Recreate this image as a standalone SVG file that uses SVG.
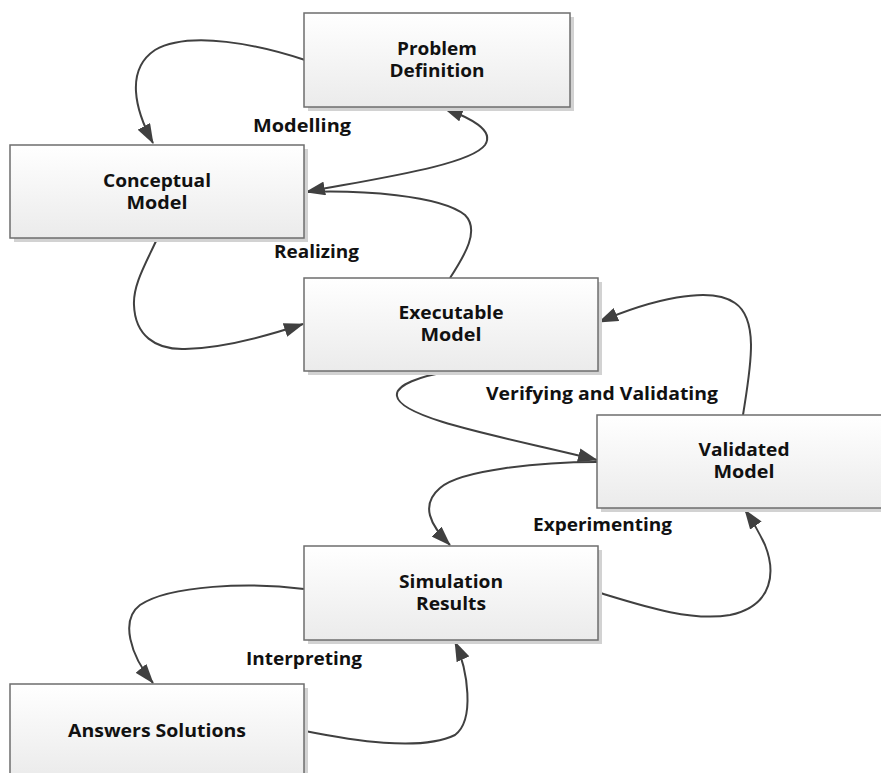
<svg xmlns="http://www.w3.org/2000/svg" width="881" height="773" viewBox="0 0 881 773">
<defs>
<linearGradient id="g" x1="0" y1="0" x2="0" y2="1">
<stop offset="0" stop-color="#ffffff"/>
<stop offset="1" stop-color="#ebebeb"/>
</linearGradient>
<marker id="a" viewBox="0 0 20 14" refX="19" refY="7" markerWidth="20" markerHeight="14" markerUnits="userSpaceOnUse" orient="auto-start-reverse">
<path d="M0,0 L20,7 L0,14 z" fill="#404040"/>
</marker>
</defs>
<style>
.box{fill:url(#g);stroke:#6e6e6e;stroke-width:1.5}
.sh{fill:#d2d2d2}
.t{font-family:"Open Sans","Liberation Sans",sans-serif;font-weight:bold;font-size:17.5px;fill:#111;text-anchor:middle}
.l{font-family:"Open Sans","Liberation Sans",sans-serif;font-weight:bold;font-size:17.5px;fill:#111}
.c{fill:none;stroke:#404040;stroke-width:2}
</style>
<rect width="881" height="773" fill="#ffffff"/>
<g id="connectors">
<path class="c" d="M305,60 C260,45 190,30 155,50 C125,70 135,110 153,143" marker-end="url(#a)"/>
<path class="c" d="M306,192 C380,178 470,165 485,145 C495,130 470,118 444,108" marker-start="url(#a)" marker-end="url(#a)"/>
<path class="c" d="M450,278 C465,255 480,230 465,215 C440,195 360,190 306,192"/>
<path class="c" d="M157,239 C145,265 133,285 134,305 C135,335 155,350 185,349 C225,348 270,335 303,324" marker-end="url(#a)"/>
<path class="c" d="M452,371 C420,376 395,385 397,396 C400,420 520,440 597,460" marker-end="url(#a)"/>
<path class="c" d="M743,415 C750,370 760,320 735,303 C710,285 650,300 599,322" marker-end="url(#a)"/>
<path class="c" d="M597,462 C540,462 460,470 440,488 C420,505 430,525 450,545" marker-end="url(#a)"/>
<path class="c" d="M597,592 C640,605 690,622 730,615 C775,605 775,570 765,545 C758,530 752,520 745,510" marker-end="url(#a)"/>
<path class="c" d="M304,589 C250,582 170,585 140,605 C120,620 130,655 153,683" marker-end="url(#a)"/>
<path class="c" d="M305,731 C350,740 420,752 455,735 C475,720 468,670 455,642" marker-end="url(#a)"/>
</g>
<g id="labels">
<text class="l" x="253" y="132" textLength="98" lengthAdjust="spacingAndGlyphs">Modelling</text>
<text class="l" x="274" y="258" textLength="85" lengthAdjust="spacingAndGlyphs">Realizing</text>
<text class="l" x="486" y="400" textLength="232" lengthAdjust="spacingAndGlyphs">Verifying and Validating</text>
<text class="l" x="533" y="531" textLength="139" lengthAdjust="spacingAndGlyphs">Experimenting</text>
<text class="l" x="246" y="665" textLength="116" lengthAdjust="spacingAndGlyphs">Interpreting</text>
</g>
<g id="problem-definition">
<rect class="sh" x="308" y="17" width="266" height="94"/>
<rect class="box" x="304" y="13" width="266" height="94"/>
<text class="t" x="437" y="55" textLength="80" lengthAdjust="spacingAndGlyphs">Problem</text>
<text class="t" x="437" y="77" textLength="95" lengthAdjust="spacingAndGlyphs">Definition</text>
</g>
<g id="conceptual-model">
<rect class="sh" x="14" y="149" width="294" height="93"/>
<rect class="box" x="10" y="145" width="294" height="93"/>
<text class="t" x="157" y="187" textLength="108" lengthAdjust="spacingAndGlyphs">Conceptual</text>
<text class="t" x="157" y="209" textLength="61" lengthAdjust="spacingAndGlyphs">Model</text>
</g>
<g id="executable-model">
<rect class="sh" x="308" y="282" width="294" height="93"/>
<rect class="box" x="304" y="278" width="294" height="93"/>
<text class="t" x="451" y="319" textLength="105" lengthAdjust="spacingAndGlyphs">Executable</text>
<text class="t" x="451" y="341" textLength="61" lengthAdjust="spacingAndGlyphs">Model</text>
</g>
<g id="validated-model">
<rect class="sh" x="601" y="419" width="294" height="93"/>
<rect class="box" x="597" y="415" width="294" height="93"/>
<text class="t" x="744" y="456" textLength="91" lengthAdjust="spacingAndGlyphs">Validated</text>
<text class="t" x="744" y="478" textLength="61" lengthAdjust="spacingAndGlyphs">Model</text>
</g>
<g id="simulation-results">
<rect class="sh" x="308" y="550" width="294" height="94"/>
<rect class="box" x="304" y="546" width="294" height="94"/>
<text class="t" x="451" y="588" textLength="104" lengthAdjust="spacingAndGlyphs">Simulation</text>
<text class="t" x="451" y="610" textLength="70" lengthAdjust="spacingAndGlyphs">Results</text>
</g>
<g id="answers-solutions">
<rect class="sh" x="14" y="688" width="294" height="93"/>
<rect class="box" x="10" y="684" width="294" height="93"/>
<text class="t" x="157" y="737" textLength="178" lengthAdjust="spacingAndGlyphs">Answers Solutions</text>
</g>
</svg>
